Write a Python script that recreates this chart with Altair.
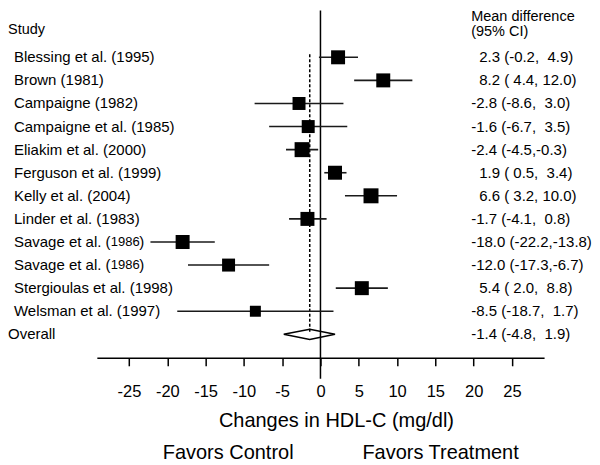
import altair as alt
import pandas as pd

studies = [
    "Blessing et al. (1995)", "Brown (1981)", "Campaigne (1982)",
    "Campaigne et al. (1985)", "Eliakim et al. (2000)", "Ferguson et al. (1999)",
    "Kelly et al. (2004)", "Linder et al. (1983)", "Savage et al. (1986)",
    "Savage et al. (1986)", "Stergioulas et al. (1998)", "Welsman et al. (1997)",
]
means = [2.3, 8.2, -2.8, -1.6, -2.4, 1.9, 6.6, -1.7, -18.0, -12.0, 5.4, -8.5]
lowers = [-0.2, 4.4, -8.6, -6.7, -4.5, 0.5, 3.2, -4.1, -22.2, -17.3, 2.0, -18.7]
uppers = [4.9, 12.0, 3.0, 3.5, -0.3, 3.4, 10.0, 0.8, -13.8, -6.7, 8.8, 1.7]
box_side = [14, 14, 13, 13, 15, 14, 15, 14, 14, 13, 14, 11]
ci_text = [
    "2.3 (-0.2,  4.9)", "8.2 ( 4.4, 12.0)", "-2.8 (-8.6,  3.0)",
    "-1.6 (-6.7,  3.5)", "-2.4 (-4.5,-0.3)", "1.9 ( 0.5,  3.4)",
    "6.6 ( 3.2, 10.0)", "-1.7 (-4.1,  0.8)", "-18.0 (-22.2,-13.8)",
    "-12.0 (-17.3,-6.7)", "5.4 ( 2.0,  8.8)", "-8.5 (-18.7,  1.7)",
]
overall_mean, overall_lo, overall_hi = -1.4, -4.8, 1.9
overall_text = "-1.4 (-4.8,  1.9)"
tick_values = [-25, -20, -15, -10, -5, 0, 5, 10, 15, 20, 25]

FONT = "Liberation Sans"
NB = "\u00a0"

n = len(studies)
main_lbl, small_lbl = [], []
for s in studies:
    if s.startswith("Savage"):
        main_lbl.append("Savage et al. (")
        small_lbl.append("1986")
    else:
        main_lbl.append(s)
        small_lbl.append("")

df = pd.DataFrame({
    "row": list(range(n)),
    "study": studies,
    "main": main_lbl,
    "small": small_lbl,
    "mean": means,
    "lo": lowers,
    "hi": uppers,
    "area": [s * s for s in box_side],
    "ci": [t.replace(" ", NB) for t in ci_text],
})
overall_row = n
half = 0.22
dia = pd.DataFrame({
    "x": [overall_lo, overall_mean, overall_hi, overall_mean, overall_lo],
    "row": [overall_row, overall_row - half, overall_row, overall_row + half, overall_row],
    "o": [0, 1, 2, 3, 4],
})
ov = pd.DataFrame({"row": [overall_row], "label": ["Overall"],
                   "ci": [overall_text.replace(" ", NB)], "mean": [overall_mean]})

x_scale = alt.Scale(domain=[-29.2, 29.2], range=[89, 537], nice=False, zero=False)
x_axis = alt.Axis(
    values=tick_values, grid=False, domainColor="black", domainWidth=1.5,
    tickColor="black", tickWidth=1.5, tickSize=8, labelFontSize=16.5,
    labelColor="black", labelFont=FONT, labelPadding=18, labelFlush=False,
    labelExpr="'' + datum.value", title="Changes in HDL-C (mg/dl)",
    titleFont=FONT, titleFontSize=20, titleFontWeight="normal", titleColor="black",
    titleX=328.5, titleY=69, titleBaseline="alphabetic", titleAlign="center",
)
y_scale = alt.Scale(domain=[0, 12], range=[47, 324.5], nice=False, zero=False)


def X(f):
    return alt.X(f, type="quantitative", scale=x_scale, axis=x_axis)


def Y(f):
    return alt.Y(f, type="quantitative", scale=y_scale, axis=None)


def txt(data, size=15, align="left", baseline="middle"):
    return alt.Chart(data).mark_text(align=align, baseline=baseline, font=FONT,
                                     fontSize=size, color="black")


zero_line = alt.Chart(pd.DataFrame({"v": [0]})).mark_rule(color="black", strokeWidth=1.5).encode(
    x=X("v"), y=alt.value(0), y2=alt.value(369))
dash_line = alt.Chart(pd.DataFrame({"v": [overall_mean]})).mark_rule(
    color="black", strokeWidth=1.5, strokeDash=[3, 2]).encode(
    x=X("v"), y=alt.value(44), y2=alt.value(323))

ci_lines = alt.Chart(df).mark_rule(color="#1a1a1a", strokeWidth=1.6).encode(
    x=X("lo"), x2="hi", y=Y("row"))
boxes = alt.Chart(df).mark_square(color="black", opacity=1, filled=True).encode(
    x=X("mean"), y=Y("row"), size=alt.Size("area:Q", scale=None, legend=None))
diamond = alt.Chart(dia).mark_line(color="black", strokeWidth=1.5).encode(
    x=X("x"), y=Y("row"), order="o:Q")

study_text = txt(df).encode(x=alt.value(6), y=Y("row"), text="main:N")
small_year = txt(df, size=13).transform_filter("datum.small != ''").encode(
    x=alt.value(103), y=Y("row"), text="small:N")
small_close = txt(df).transform_filter("datum.small != ''").transform_calculate(
    cp="')'").encode(x=alt.value(131.5), y=Y("row"), text="cp:N")

ci_neg = txt(df).transform_filter("datum.mean < 0").encode(
    x=alt.value(464), y=Y("row"), text="ci:N")
ci_pos = txt(df).transform_filter("datum.mean >= 0").encode(
    x=alt.value(472), y=Y("row"), text="ci:N")
ov_label = txt(ov).encode(x=alt.value(0), y=Y("row"), text="label:N")
ov_ci = txt(ov).encode(x=alt.value(464), y=Y("row"), text="ci:N")

headers = pd.DataFrame({
    "t": ["Study", "Mean difference", "(95% CI)", "Favors Control", "Favors Treatment"],
    "px": [0, 464, 464, 155, 355],
    "py": [20, 6.5, 22, 449, 449],
})
hdr_small = txt(headers.iloc[:3], size=14.5).encode(
    x=alt.X("px:Q", scale=None), y=alt.Y("py:Q", scale=None), text="t:N")
hdr_big = txt(headers.iloc[3:], size=20, baseline="alphabetic").encode(
    x=alt.X("px:Q", scale=None), y=alt.Y("py:Q", scale=None), text="t:N")

chart = alt.layer(
    zero_line, dash_line, ci_lines, boxes, diamond,
    study_text, small_year, small_close, ci_neg, ci_pos, ov_label, ov_ci,
    hdr_small, hdr_big,
).properties(width=584, height=348, padding=0).configure_view(strokeWidth=0)

chart.save("out.html", embed_options={"renderer": "svg", "actions": False})
